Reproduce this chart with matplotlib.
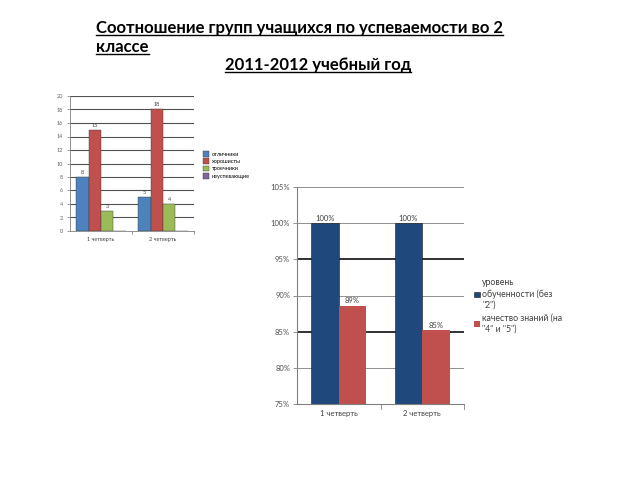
import numpy as np
import matplotlib
matplotlib.use('Agg')
import matplotlib.pyplot as plt
from matplotlib.lines import Line2D

plt.rcParams['font.family'] = ['Lato', 'DejaVu Sans']

# small chart data
quarters = ['1 четверть', '2 четверть']
groups = ['отличники', 'хорошисты', 'троечники', 'неуспевающие']
counts = [[8, 5], [15, 18], [3, 4], [0, 0]]
small_colors = ['#4F81BD', '#C0504D', '#9BBB59', '#8064A2']
small_yticks = [0, 2, 4, 6, 8, 10, 12, 14, 16, 18, 20]

# big chart data
big_series = ['уровень\nобученности (без\n"2")', 'качество знаний (на\n"4" и "5")']
big_values = [[100, 100], [88.6, 85.2]]
big_colors = ['#1F497D', '#C0504D']
big_yticks = [75, 80, 85, 90, 95, 100, 105]

fig = plt.figure(figsize=(6.4, 4.8), dpi=100)

# titles
t1 = fig.text(96/640, 1-28/480, 'Соотношение групп учащихся по успеваемости во 2',
              fontsize=12, fontweight='bold', va='center', ha='left')
t2 = fig.text(96/640, 1-47/480, 'классе', fontsize=12, fontweight='bold', va='center', ha='left')
t3 = fig.text(318/640, 1-65/480, '2011-2012 учебный год', fontsize=12, fontweight='bold',
              va='center', ha='center')

# small chart
ax1 = fig.add_axes([70/640, 1-231/480, 124/640, 135/480])
x = np.arange(len(quarters))
w = 0.2
for i, g in enumerate(groups):
    pos = x - 0.3 + i*w
    ax1.bar(pos, counts[i], w, color=small_colors[i], label=g,
            edgecolor='#3a3a3a', linewidth=0.3)
    for p, v in zip(pos, counts[i]):
        if v > 0:
            ax1.text(p, v + 0.3, str(v), fontsize=4, ha='center', va='bottom', color='#404040')
ax1.set_xlim(-0.5, 1.5)
ax1.set_ylim(0, 20)
ax1.set_yticks(small_yticks)
ax1.set_yticklabels([str(v) for v in small_yticks], fontsize=4, color='#606060')
ax1.set_xticks(x)
ax1.set_xticklabels(quarters, fontsize=4, color='#404040')
ax1.tick_params(axis='x', length=0, pad=4)
ax1.tick_params(axis='y', length=2, width=0.5, pad=3, color='#808080')
for yv in small_yticks[1:]:
    ax1.axhline(yv, color='#505050', linewidth=0.8, zorder=0)
for s in ['top', 'right']:
    ax1.spines[s].set_visible(False)
ax1.spines['left'].set_color('#808080')
ax1.spines['bottom'].set_color('#808080')
ax1.spines['left'].set_linewidth(0.6)
ax1.spines['bottom'].set_linewidth(0.6)
for xb in [0.5, 1.5]:
    ax1.plot([xb, xb], [0, -0.4], color='#808080', linewidth=0.5, clip_on=False)
ax1.legend(loc='upper left', bbox_to_anchor=(1.03, 0.63), fontsize=4, frameon=False,
           handlelength=1.2, handleheight=1.2, labelspacing=0.3, handletextpad=0.4)

# big chart
ax2 = fig.add_axes([297/640, 1-404/480, 167/640, 217/480])
w2 = 0.33
for i, s in enumerate(big_series):
    pos = x - w2/2 + i*w2
    ax2.bar(pos, big_values[i], w2, color=big_colors[i], label=s,
            edgecolor='#1a1a1a' if i == 0 else 'none', linewidth=0.4)
    for p, v in zip(pos, big_values[i]):
        ax2.text(p, v + 0.2, '%.0f%%' % v, fontsize=5.5, ha='center', va='bottom', color='#404040')
ax2.set_xlim(-0.5, 1.5)
ax2.set_ylim(75, 105)
ax2.set_yticks(big_yticks)
ax2.set_yticklabels(['%d%%' % v for v in big_yticks], fontsize=5.5, color='#505050')
ax2.set_xticks(x)
ax2.set_xticklabels(quarters, fontsize=5.5, color='#404040')
ax2.tick_params(axis='x', length=0, pad=4)
ax2.tick_params(axis='y', length=3, width=0.6, pad=2, color='#808080')
for yv in big_yticks[1:]:
    if yv in (95, 85):
        ax2.axhline(yv, color='#202020', linewidth=1.3, zorder=0)
    else:
        ax2.axhline(yv, color='#909090', linewidth=0.7, zorder=0)
for s in ['top', 'right']:
    ax2.spines[s].set_visible(False)
ax2.spines['left'].set_color('#808080')
ax2.spines['bottom'].set_color('#808080')
for xb in [0.5, 1.5]:
    ax2.plot([xb, xb], [75, 74.3], color='#808080', linewidth=0.6, clip_on=False)
leg2 = ax2.legend(loc='upper left', bbox_to_anchor=(1.015, 0.615), fontsize=6.3, frameon=False,
                  handlelength=0.6, handleheight=0.6, labelspacing=0.5, handletextpad=0.3)
for t in leg2.get_texts():
    t.set_linespacing(1.25)
    t.set_color('#404040')

# underline the title lines
fig.canvas.draw()
r = fig.canvas.get_renderer()
for t in [t1, t2, t3]:
    bb = t.get_window_extent(renderer=r)
    yl = bb.y0 + 1.5
    fig.add_artist(Line2D([bb.x0/640, bb.x1/640], [yl/480, yl/480], color='black', linewidth=1.0))

fig.savefig('out.png', dpi=100)
